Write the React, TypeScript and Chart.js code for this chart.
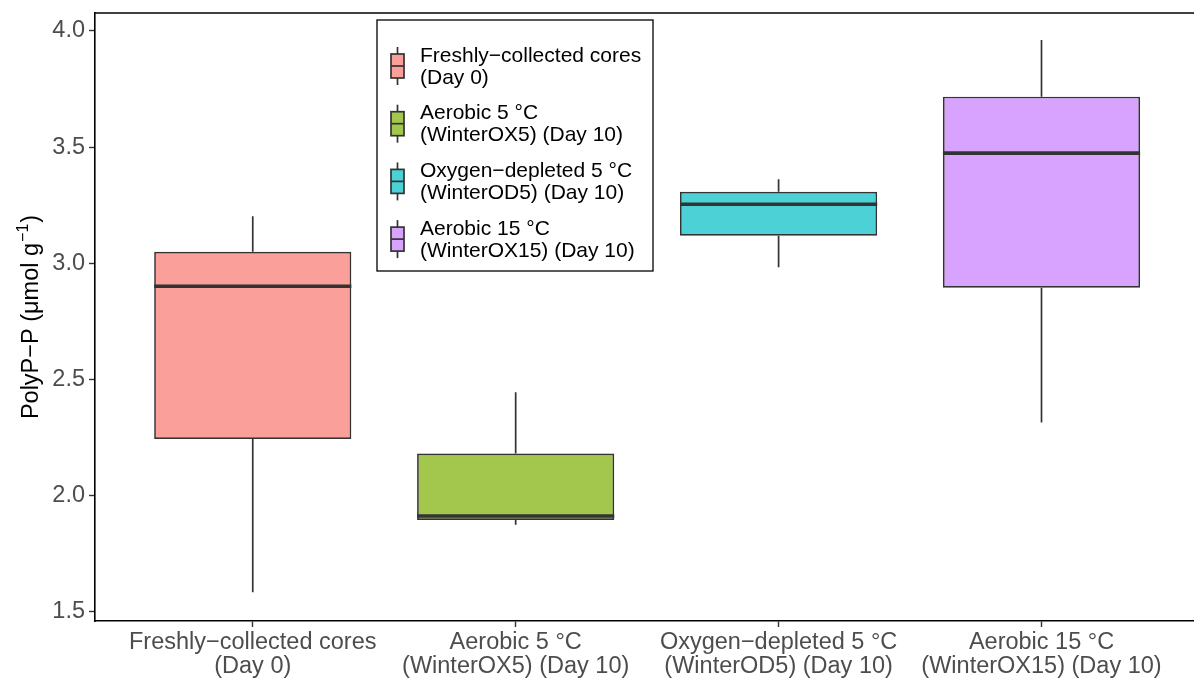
import { useEffect, useRef } from 'react';
import { Chart, registerables } from 'chart.js';

Chart.register(...registerables);

// Treatment groups (two-line labels, shared by the x axis and the legend)
const categoryLines: string[][] = [
  ['Freshly\u2212collected cores', '(Day 0)'],
  ['Aerobic 5 \u00b0C', '(WinterOX5) (Day 10)'],
  ['Oxygen\u2212depleted 5 \u00b0C', '(WinterOD5) (Day 10)'],
  ['Aerobic 15 \u00b0C', '(WinterOX15) (Day 10)'],
];

// Five-number summaries of PolyP-P per group
const whiskerLow = [1.585, 1.875, 2.983, 2.315];
const lowerQuartile = [2.244, 1.896, 3.119, 2.895];
const medians = [2.901, 1.913, 3.254, 3.474];
const upperQuartile = [3.05, 2.182, 3.308, 3.717];
const whiskerHigh = [3.202, 2.445, 3.362, 3.961];

const yTicks = [1.5, 2.0, 2.5, 3.0, 3.5, 4.0];
const fillColours = [
  'rgba(248,118,109,0.7)',
  'rgba(124,174,0,0.7)',
  'rgba(0,191,196,0.7)',
  'rgba(199,124,255,0.7)',
];

const OUTLINE = '#333333';
const FONT = '"Liberation Sans", Arial, Helvetica, sans-serif';

const boxParts = {
  id: 'boxParts',
  beforeDatasetsDraw(chart: any) {
    const { ctx, scales } = chart;
    const xs = scales.x;
    const ys = scales.y;
    ctx.save();
    ctx.strokeStyle = OUTLINE;
    ctx.lineWidth = 1.7;
    medians.forEach((_, i) => {
      const x = xs.getPixelForValue(i + 1);
      ctx.beginPath();
      ctx.moveTo(x, ys.getPixelForValue(whiskerHigh[i]));
      ctx.lineTo(x, ys.getPixelForValue(upperQuartile[i]));
      ctx.moveTo(x, ys.getPixelForValue(lowerQuartile[i]));
      ctx.lineTo(x, ys.getPixelForValue(whiskerLow[i]));
      ctx.stroke();
    });
    ctx.restore();
  },
  afterDatasetsDraw(chart: any) {
    const { ctx, scales } = chart;
    const ys = scales.y;
    const meta = chart.getDatasetMeta(0);
    ctx.save();
    ctx.strokeStyle = OUTLINE;
    ctx.lineWidth = 3.6;
    meta.data.forEach((bar: any, i: number) => {
      const half = bar.width / 2;
      const y = ys.getPixelForValue(medians[i]);
      ctx.beginPath();
      ctx.moveTo(bar.x - half, y);
      ctx.lineTo(bar.x + half, y);
      ctx.stroke();
    });
    // top edge of the panel
    const { chartArea } = chart;
    ctx.strokeStyle = '#000';
    ctx.lineWidth = 1.5;
    ctx.beginPath();
    ctx.moveTo(chartArea.left, chartArea.top);
    ctx.lineTo(chartArea.right, chartArea.top);
    ctx.stroke();
    ctx.restore();
  },
};

const axisTitle = {
  id: 'axisTitle',
  afterDraw(chart: any) {
    const { ctx, chartArea } = chart;
    const main = 'PolyP\u2212P (\u03bcmol g';
    const sup = '\u22121';
    const close = ')';
    ctx.save();
    ctx.fillStyle = '#000';
    ctx.textBaseline = 'alphabetic';
    ctx.textAlign = 'left';
    const bigFont = `23.5px ${FONT}`;
    const smallFont = `16px ${FONT}`;
    ctx.font = bigFont;
    const w1 = ctx.measureText(main).width;
    const w3 = ctx.measureText(close).width;
    ctx.font = smallFont;
    const w2 = ctx.measureText(sup).width;
    const total = w1 + w2 + w3 + 2;
    ctx.translate(38, (chartArea.top + chartArea.bottom) / 2);
    ctx.rotate(-Math.PI / 2);
    let x = -total / 2;
    ctx.font = bigFont;
    ctx.fillText(main, x, 0);
    x += w1 + 1;
    ctx.font = smallFont;
    ctx.fillText(sup, x, -10);
    x += w2 + 1;
    ctx.font = bigFont;
    ctx.fillText(close, x, 0);
    ctx.restore();
  },
};

const boxLegend = {
  id: 'boxLegend',
  afterDraw(chart: any) {
    const { ctx, chartArea } = chart;
    const left = chartArea.left + 282;
    const top = chartArea.top + 7;
    const w = 276;
    const h = 251;
    ctx.save();
    ctx.fillStyle = '#fff';
    ctx.fillRect(left, top, w, h);
    ctx.strokeStyle = '#000';
    ctx.lineWidth = 1.3;
    ctx.strokeRect(left, top, w, h);
    categoryLines.forEach((lines, i) => {
      const cy = top + 46 + i * 57.7;
      const kw = 13;
      const kx = left + 14;
      const mid = kx + kw / 2;
      ctx.strokeStyle = OUTLINE;
      ctx.lineWidth = 1.7;
      ctx.beginPath();
      ctx.moveTo(mid, cy - 19);
      ctx.lineTo(mid, cy + 19);
      ctx.stroke();
      ctx.fillStyle = '#fff';
      ctx.fillRect(kx, cy - 12, kw, 24);
      ctx.fillStyle = fillColours[i];
      ctx.fillRect(kx, cy - 12, kw, 24);
      ctx.strokeRect(kx, cy - 12, kw, 24);
      ctx.beginPath();
      ctx.moveTo(kx, cy);
      ctx.lineTo(kx + kw, cy);
      ctx.stroke();
      ctx.fillStyle = '#000';
      ctx.font = `21px ${FONT}`;
      ctx.textAlign = 'left';
      ctx.textBaseline = 'middle';
      ctx.fillText(lines[0], left + 43, cy - 10);
      ctx.fillText(lines[1], left + 43, cy + 12);
    });
    ctx.restore();
  },
};

export default function App() {
  const canvasRef = useRef<HTMLCanvasElement | null>(null);

  useEffect(() => {
    const canvas = canvasRef.current;
    if (!canvas) return;
    const chart = new Chart(canvas, {
      type: 'bar',
      data: {
        datasets: [
          {
            data: medians.map((_, i) => ({ x: i + 1, y: [lowerQuartile[i], upperQuartile[i]] })) as any,
            backgroundColor: fillColours,
            borderColor: OUTLINE,
            borderWidth: 1.7,
            borderSkipped: false,
            barPercentage: 0.75,
            categoryPercentage: 1,
          },
        ],
      },
      options: {
        responsive: false,
        maintainAspectRatio: false,
        animation: false,
        layout: { padding: { top: 13, right: 0, left: 0, bottom: 0 } },
        plugins: {
          legend: { display: false },
          tooltip: { enabled: false },
        },
        scales: {
          x: {
            type: 'linear',
            offset: false,
            min: 0.4,
            max: 4.58,
            afterBuildTicks: (scale: any) => {
              scale.ticks = categoryLines.map((_, i) => ({ value: i + 1 }));
            },
            afterFit: (scale: any) => {
              scale.height = 61;
              scale.paddingLeft = 0;
              scale.paddingRight = 0;
            },
            grid: {
              offset: false,
              drawOnChartArea: false,
              drawTicks: true,
              tickLength: 6,
              tickColor: OUTLINE,
              tickWidth: 1.4,
            },
            border: { display: true, color: '#000', width: 1.6 },
            ticks: {
              callback: (v: any) => categoryLines[Math.round(Number(v)) - 1] ?? '',
              color: '#4D4D4D',
              font: { family: FONT, size: 23.5, lineHeight: 1.05 },
              padding: 3,
              maxRotation: 0,
              autoSkip: false,
            },
          },
          y: {
            type: 'linear',
            min: 1.461,
            max: 4.077,
            afterBuildTicks: (scale: any) => {
              scale.ticks = yTicks.map((value) => ({ value }));
            },
            afterFit: (scale: any) => {
              scale.width = 95;
              scale.paddingTop = 0;
              scale.paddingBottom = 0;
            },
            grid: {
              drawOnChartArea: false,
              drawTicks: true,
              tickLength: 6,
              tickColor: OUTLINE,
              tickWidth: 1.4,
            },
            border: { display: true, color: '#000', width: 1.6 },
            ticks: {
              callback: (v: any) => Number(v).toFixed(1),
              color: '#4D4D4D',
              font: { family: FONT, size: 23.5 },
              padding: 4,
            },
          },
        },
      },
      plugins: [boxParts, axisTitle, boxLegend],
    });
    return () => chart.destroy();
  }, []);

  return (
    <div style={{ position: 'absolute', left: 0, top: 0, width: 1194, height: 682, background: '#fff' }}>
      <canvas ref={canvasRef} width={1194} height={682} style={{ display: 'block' }} />
    </div>
  );
}
